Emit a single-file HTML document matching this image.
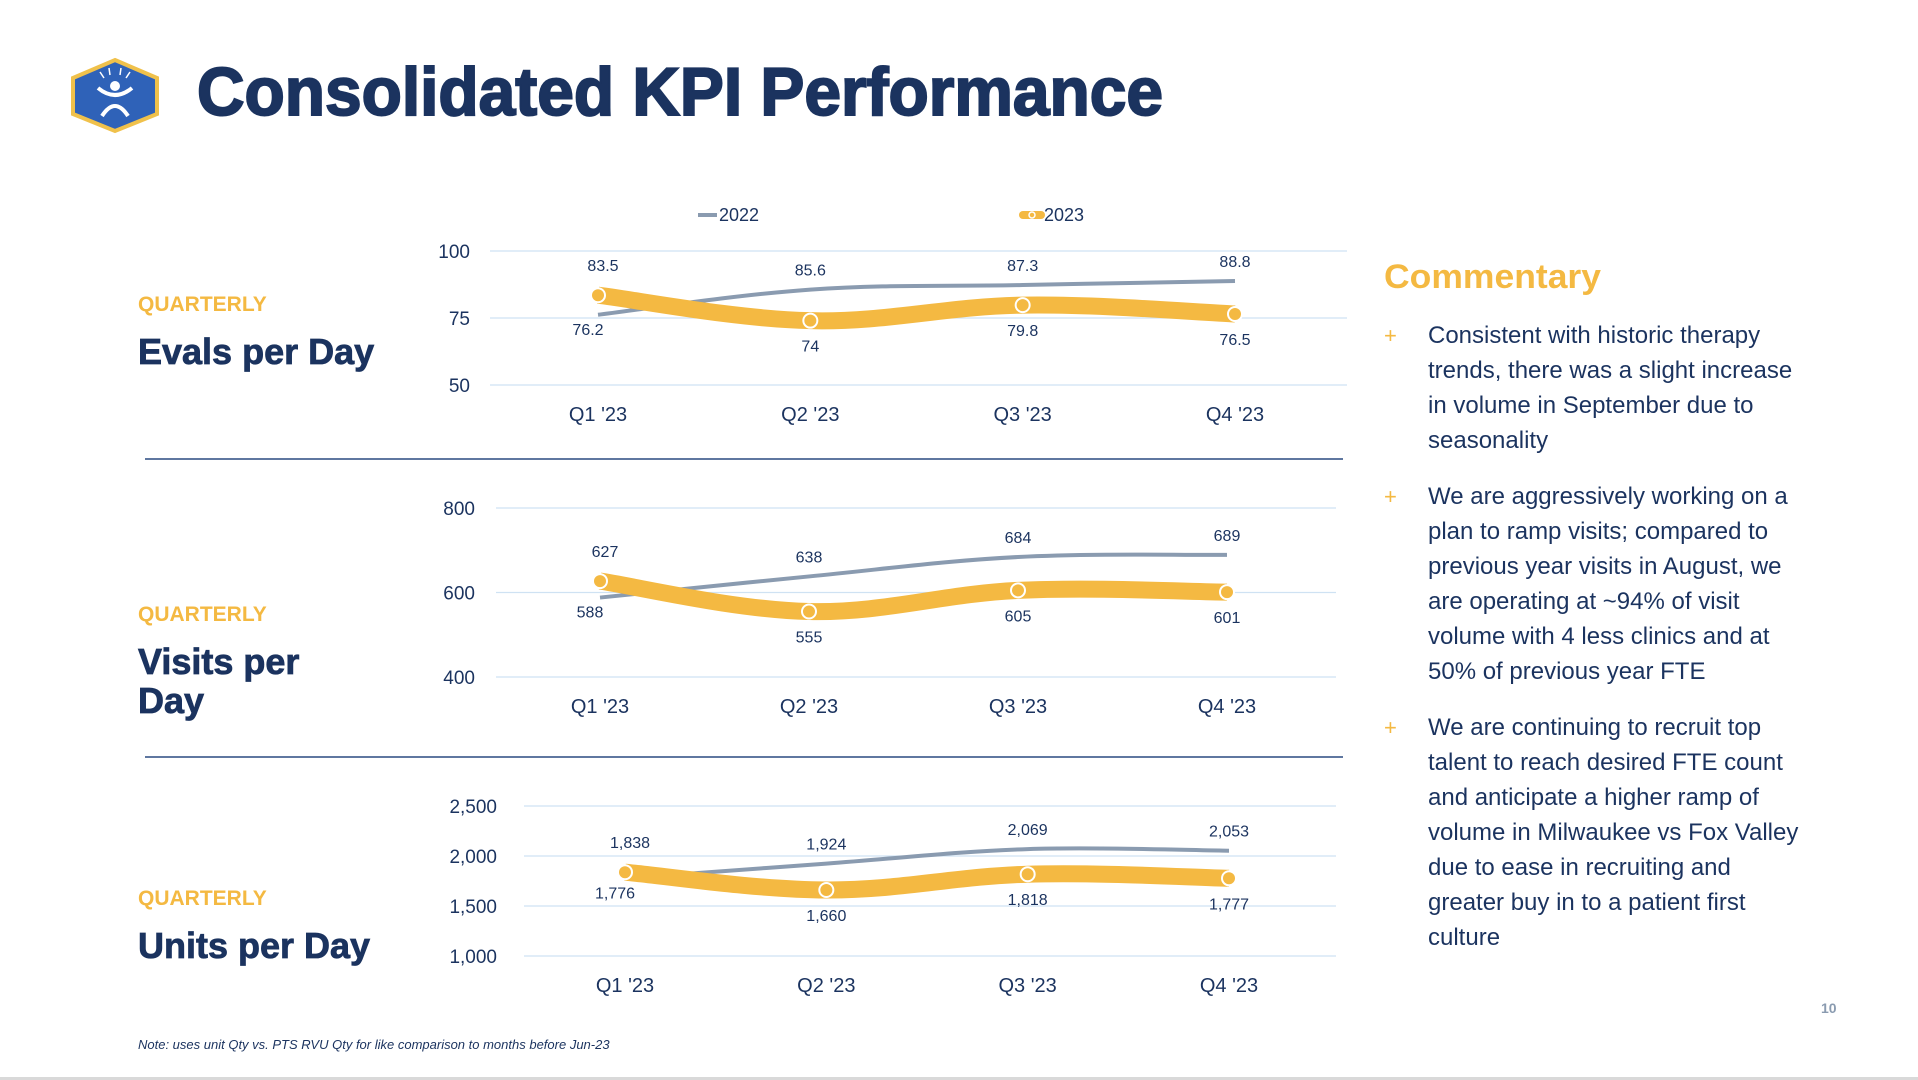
<!DOCTYPE html>
<html><head><meta charset="utf-8">
<style>
html,body{margin:0;padding:0;background:#fff;}
svg{display:block;}
text{font-family:"Liberation Sans",sans-serif;}
</style></head>
<body>
<svg id="root" width="1918" height="1080" viewBox="0 0 1918 1080" xmlns="http://www.w3.org/2000/svg">
  <g>
    <polygon points="115,60 157,78 157,114 115,131 73,114 73,78" fill="#2f62b8" stroke="#f0c14b" stroke-width="4"/>
    <circle cx="115" cy="86" r="5" fill="#fff"/>
    <path d="M98,88 Q115,102 132,88" stroke="#fff" stroke-width="4" fill="none"/>
    <path d="M102,116 Q115,96 128,116" stroke="#fff" stroke-width="4" fill="none"/>
    <path d="M104,78 L100,72 M110,75 L109,68 M120,75 L121,68 M126,78 L130,72" stroke="#fff" stroke-width="1.5"/>
  </g>
  <text x="197" y="115" font-size="68" font-weight="bold" fill="#1b335f" stroke="#1b335f" stroke-width="2" textLength="966" lengthAdjust="spacingAndGlyphs">Consolidated KPI Performance</text>

  <g>
    <line x1="698" y1="215" x2="717" y2="215" stroke="#8a9bb0" stroke-width="4"/>
    <text x="719" y="221" font-size="18" fill="#1b335f">2022</text>
    <line x1="1023" y1="215" x2="1041" y2="215" stroke="#f4b942" stroke-width="8" stroke-linecap="round"/>
    <circle cx="1032" cy="215" r="3" fill="#f4b942" stroke="#fff" stroke-width="1.5"/>
    <text x="1044" y="221" font-size="18" fill="#1b335f">2023</text>
  </g>

  <g>
    <text x="138" y="311" font-size="21" font-weight="bold" fill="#f4b942">QUARTERLY</text>
    <text x="138" y="364" font-size="36" font-weight="bold" fill="#1b335f" stroke="#1b335f" stroke-width="0.8">Evals per Day</text>
    <text x="138" y="621" font-size="21" font-weight="bold" fill="#f4b942">QUARTERLY</text>
    <text x="138" y="674" font-size="36" font-weight="bold" fill="#1b335f" stroke="#1b335f" stroke-width="0.8">Visits per</text>
    <text x="138" y="713" font-size="36" font-weight="bold" fill="#1b335f" stroke="#1b335f" stroke-width="0.8">Day</text>
    <text x="138" y="905" font-size="21" font-weight="bold" fill="#f4b942">QUARTERLY</text>
    <text x="138" y="958" font-size="36" font-weight="bold" fill="#1b335f" stroke="#1b335f" stroke-width="0.8">Units per Day</text>
  </g>

  <line x1="145" y1="459" x2="1343" y2="459" stroke="#2a4a80" stroke-width="1.5"/>
  <line x1="145" y1="757" x2="1343" y2="757" stroke="#2a4a80" stroke-width="1.5"/>

  <g id="charts"></g>

  <g>
    <text x="1384" y="288" font-size="34" font-weight="bold" fill="#f4b942" textLength="217" lengthAdjust="spacingAndGlyphs">Commentary</text>
    <g font-size="24" fill="#1b335f">
      <text x="1384" y="343" fill="#f4b942" font-size="22">+</text>
      <text x="1428" y="343"><tspan x="1428">Consistent with historic therapy</tspan><tspan x="1428" dy="35">trends, there was a slight increase</tspan><tspan x="1428" dy="35">in volume in September due to</tspan><tspan x="1428" dy="35">seasonality</tspan></text>
      <text x="1384" y="504" fill="#f4b942" font-size="22">+</text>
      <text x="1428" y="504"><tspan x="1428">We are aggressively working on a</tspan><tspan x="1428" dy="35">plan to ramp visits; compared to</tspan><tspan x="1428" dy="35">previous year visits in August, we</tspan><tspan x="1428" dy="35">are operating at ~94% of visit</tspan><tspan x="1428" dy="35">volume with 4 less clinics and at</tspan><tspan x="1428" dy="35">50% of previous year FTE</tspan></text>
      <text x="1384" y="735" fill="#f4b942" font-size="22">+</text>
      <text x="1428" y="735"><tspan x="1428">We are continuing to recruit top</tspan><tspan x="1428" dy="35">talent to reach desired FTE count</tspan><tspan x="1428" dy="35">and anticipate a higher ramp of</tspan><tspan x="1428" dy="35">volume in Milwaukee vs Fox Valley</tspan><tspan x="1428" dy="35">due to ease in recruiting and</tspan><tspan x="1428" dy="35">greater buy in to a patient first</tspan><tspan x="1428" dy="35">culture</tspan></text>
    </g>
  </g>

  <text x="1821" y="1013" font-size="14" font-weight="bold" fill="#8a9bb0">10</text>
  <text x="138" y="1049" font-size="13" font-style="italic" fill="#1b335f">Note: uses unit Qty vs. PTS RVU Qty for like comparison to months before Jun-23</text>
  <rect x="0" y="1077" width="1918" height="3" fill="#d9d9d9"/>
</svg>
<script>
const categories = ["Q1 '23","Q2 '23","Q3 '23","Q4 '23"];
const evals2022 = [76.2, 85.6, 87.3, 88.8];
const evals2023 = [83.5, 74, 79.8, 76.5];
const evalsTicks = [50, 75, 100];
const visits2022 = [588, 638, 684, 689];
const visits2023 = [627, 555, 605, 601];
const visitsTicks = [400, 600, 800];
const units2022 = [1776, 1924, 2069, 2053];
const units2023 = [1838, 1660, 1818, 1777];
const unitsTicks = [1000, 1500, 2000, 2500];

const NS = "http://www.w3.org/2000/svg";
const root = document.getElementById('charts');
function mk(tag, attrs, parent){
  const e = document.createElementNS(NS, tag);
  for (const k in attrs) e.setAttribute(k, attrs[k]);
  parent.appendChild(e);
  return e;
}
function smooth(pts){
  let d = `M${pts[0][0]},${pts[0][1]}`;
  for (let i=0;i<pts.length-1;i++){
    const p0=pts[Math.max(0,i-1)], p1=pts[i], p2=pts[i+1], p3=pts[Math.min(pts.length-1,i+2)];
    const t=0.18;
    const c1=[p1[0]+(p2[0]-p0[0])*t, p1[1]+(p2[1]-p0[1])*t];
    const c2=[p2[0]-(p3[0]-p1[0])*t, p2[1]-(p3[1]-p1[1])*t];
    d += ` C${c1[0]},${c1[1]} ${c2[0]},${c2[1]} ${p2[0]},${p2[1]}`;
  }
  return d;
}
function chart(cfg){
  const g = mk('g', {}, root);
  
  
  const min = cfg.ticks[0], max = cfg.ticks[cfg.ticks.length-1];
  const y = v => cfg.yBottom - (v-min)/(max-min)*(cfg.yBottom-cfg.yTop);
  const x = i => cfg.xs0 + i*(cfg.xs1-cfg.xs0)/(categories.length-1);
  const fmt = v => cfg.comma ? v.toLocaleString('en-US') : String(v);
  cfg.ticks.forEach(t => {
    const ln = mk('line', {x1:cfg.gx0, x2:cfg.gx1, y1:y(t), y2:y(t), stroke:'#cfe2f3', 'stroke-width':1.2}, g);
    
    
    const tx = mk('text', {x:cfg.labX, y:y(t)+7, 'font-size':19, fill:'#1b335f', 'text-anchor':'end'}, g);
    tx.textContent = fmt(t);
    
    
  });
  categories.forEach((c,i) => {
    const tx = mk('text', {x:x(i), y:cfg.catY, 'font-size':20, fill:'#1b335f', 'text-anchor':'middle'}, g);
    tx.textContent = c;
    
    
  });
  const p22 = cfg.s22.map((v,i)=>[x(i), y(v)]);
  const p23 = cfg.s23.map((v,i)=>[x(i), y(v)]);
  const l22 = mk('path', {d:smooth(p22), stroke:'#8a9bb0', 'stroke-width':4, fill:'none'}, g);
  
  
  const l23 = mk('path', {d:smooth(p23), stroke:'#f4b942', 'stroke-width':17, fill:'none'}, g);
  
  
  p23.forEach((p,i) => {
    const c = mk('circle', {cx:p[0], cy:p[1], r:7, fill:'#f4b942', stroke:'#fff', 'stroke-width':2}, g);
    
    
  });
  cfg.s22.forEach((v,i) => {
    const below = i===0;
    const t = mk('text', {x:x(i)+(i===0?-10:0), y:below ? y(v)+20 : y(v)-14, 'font-size':16, fill:'#1b335f', 'text-anchor':'middle'}, g);
    t.textContent = fmt(v);
    
    
  });
  cfg.s23.forEach((v,i) => {
    const above = i===0;
    const t = mk('text', {x:x(i)+(i===0?5:0), y:above ? y(v)-24 : y(v)+31, 'font-size':16, fill:'#1b335f', 'text-anchor':'middle'}, g);
    t.textContent = fmt(v);
    
    
  });
}
chart({name:'evals-chart', s22:evals2022, s23:evals2023, ticks:evalsTicks, yTop:251, yBottom:385, gx0:490, gx1:1347, xs0:598, xs1:1235, labX:470, catY:421});
chart({name:'visits-chart', s22:visits2022, s23:visits2023, ticks:visitsTicks, yTop:508, yBottom:677, gx0:496, gx1:1336, xs0:600, xs1:1227, labX:475, catY:713});
chart({name:'units-chart', s22:units2022, s23:units2023, ticks:unitsTicks, yTop:806, yBottom:956, gx0:524, gx1:1336, xs0:625, xs1:1229, labX:497, catY:992, comma:true});
</script>
</body></html>
